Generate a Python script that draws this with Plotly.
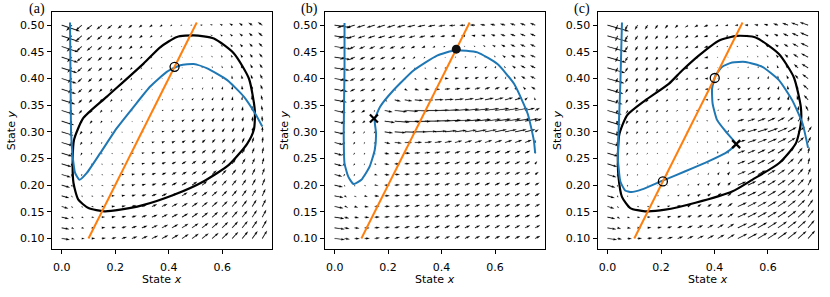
import numpy as np
import plotly.graph_objects as go

# ---------------- data ----------------
panel_labels = ["(a)", "(b)", "(c)"]
x_tick_vals = [0.0, 0.2, 0.4, 0.6]
x_tick_text = ["0.0", "0.2", "0.4", "0.6"]
y_tick_vals = [0.10, 0.15, 0.20, 0.25, 0.30, 0.35, 0.40, 0.45, 0.50]
y_tick_text = ["0.10", "0.15", "0.20", "0.25", "0.30", "0.35", "0.40", "0.45", "0.50"]

grid_x = np.linspace(0.0, 0.75, 21)
grid_y = np.linspace(0.10, 0.50, 21)

orange_x = [0.10, 0.505]
orange_y = [0.10, 0.505]

blue_a_x = [0.031, 0.033, 0.035, 0.041, 0.050, 0.066, 0.094, 0.144, 0.206, 0.269, 0.331, 0.394,
            0.444, 0.494, 0.544, 0.619, 0.681, 0.725, 0.750]
blue_a_y = [0.505, 0.400, 0.298, 0.254, 0.223, 0.210, 0.223, 0.260, 0.307, 0.347, 0.385, 0.413,
            0.425, 0.427, 0.419, 0.397, 0.366, 0.333, 0.310]

black_a_x = [0.494, 0.569, 0.644, 0.700, 0.722, 0.719, 0.694, 0.625, 0.530, 0.420, 0.300, 0.219,
             0.160, 0.100, 0.062, 0.044, 0.041, 0.046, 0.081, 0.169, 0.306, 0.369, 0.431, 0.494]
black_a_y = [0.481, 0.475, 0.447, 0.400, 0.341, 0.305, 0.278, 0.238, 0.207, 0.182, 0.162, 0.154,
             0.151, 0.157, 0.173, 0.204, 0.248, 0.285, 0.326, 0.366, 0.428, 0.459, 0.478, 0.481]

blue_b_x = [0.037, 0.037, 0.034, 0.037, 0.051, 0.071, 0.100, 0.131, 0.150, 0.155, 0.150, 0.170,
            0.220, 0.295, 0.383, 0.452, 0.534, 0.609, 0.671, 0.722, 0.745, 0.750]
blue_b_y = [0.504, 0.420, 0.297, 0.241, 0.216, 0.202, 0.210, 0.235, 0.266, 0.297, 0.322, 0.347,
            0.378, 0.415, 0.443, 0.453, 0.449, 0.427, 0.390, 0.334, 0.284, 0.260]

blue_c_x = [0.054, 0.048, 0.041, 0.039, 0.048, 0.066, 0.089, 0.129, 0.204, 0.291, 0.379, 0.441,
            0.472, 0.481, 0.448, 0.410, 0.393, 0.391, 0.404, 0.429, 0.466, 0.516, 0.579, 0.641,
            0.691, 0.729, 0.750]
blue_c_y = [0.505, 0.390, 0.297, 0.248, 0.207, 0.190, 0.187, 0.192, 0.208, 0.226, 0.245, 0.260,
            0.272, 0.277, 0.297, 0.322, 0.353, 0.381, 0.406, 0.422, 0.430, 0.431, 0.422, 0.397,
            0.359, 0.316, 0.270]

black_c_x = [0.485, 0.554, 0.641, 0.697, 0.723, 0.723, 0.704, 0.641, 0.541, 0.466, 0.329, 0.216,
             0.141, 0.085, 0.054, 0.041, 0.039, 0.044, 0.073, 0.141, 0.229, 0.279, 0.341, 0.416, 0.485]
black_c_y = [0.480, 0.477, 0.446, 0.402, 0.346, 0.316, 0.278, 0.241, 0.210, 0.188, 0.167, 0.154,
             0.151, 0.157, 0.178, 0.216, 0.260, 0.295, 0.331, 0.359, 0.390, 0.415, 0.443, 0.471, 0.480]

open_pts_a_x = [0.422]
open_pts_a_y = [0.422]
filled_pts_b_x = [0.455]
filled_pts_b_y = [0.455]
cross_pts_b_x = [0.147]
cross_pts_b_y = [0.325]
open_pts_c_x = [0.401, 0.207]
open_pts_c_y = [0.401, 0.207]
cross_pts_c_x = [0.481]
cross_pts_c_y = [0.277]

# ---------------- layout geometry (pixels) ----------------
W, H = 830, 297
PANEL_LEFT = [51.7, 324.6, 597.5]
PANEL_W = 220.6
TOP, BOTTOM = 11.7, 249.3
XR = [-0.0375, 0.7875]
YR = [0.0797, 0.5253]
KX = PANEL_W / (XR[1] - XR[0])
KY = (BOTTOM - TOP) / (YR[1] - YR[0])

BLUE = "#1f77b4"
ORANGE = "#ff7f0e"


# ---------------- vector field approximating the drawn arrows ----------------
def crossings(cx, cy, x):
    ys = []
    for i in range(len(cx) - 1):
        x1, x2 = cx[i], cx[i + 1]
        lo, hi = min(x1, x2), max(x1, x2)
        if hi > lo and lo <= x < hi:
            t = (x - x1) / (x2 - x1)
            ys.append(cy[i] + t * (cy[i + 1] - cy[i]))
    return ys


def gap(cx, cy, x, y):
    ys = crossings(cx, cy, x)
    if not ys:
        yc = cy[int(np.argmin(cx))] if x < min(cx) else cy[int(np.argmax(cx))]
        return yc - y
    above = sum(1 for yc in ys if yc > y)
    d = min(abs(yc - y) for yc in ys)
    return d if above % 2 == 1 else -d


def sig(z):
    return 1.0 / (1.0 + np.exp(-z))


def field(panel, x, y, hx, hy):
    g = gap(hx, hy, x, y)
    fast = 24.0 * np.clip((y - 0.1) / 0.4, 0.15, 1.0) ** 0.8 * np.exp(-x / 0.01)
    if panel == 0:
        U = 9.0 * np.tanh(g / 0.36)
        V = 12.0 * (x - y)
    elif panel == 1:
        U = 5.0 * np.tanh(g / 0.05)
        U *= 1.0 - 0.85 * np.exp(-((x - 0.1) / 0.06) ** 2 - ((y - 0.27) / 0.07) ** 2)
        U -= 3.0 * np.exp(-((y - 0.5) / 0.03) ** 2) * sig((0.5 - x) / 0.05)
        U += 11.0 * np.exp(-((y - 0.325) / 0.035) ** 2) * sig((x - 0.18) / 0.012)
        V = 2.5 * np.tanh((x - y) / 0.2)
    else:
        U = 10.0 * np.tanh(g / 0.2)
        if g < 0:
            U *= 0.3 + 0.7 * sig((x - 0.42) / 0.04)
        U += 5.0 * np.exp(-((y - 0.3) / 0.03) ** 2) * sig((x - 0.5) / 0.03)
        V = 12.0 * (x - y)
    return U + fast, V


def arrow_polys(panel, hx, hy, w=0.7):
    xs, ys = [], []
    hl, hw, hal, minsh = 5.0, 3.0, 4.5, 5.0
    for yy in grid_y:
        for xx in grid_x:
            U, V = field(panel, xx, yy, hx, hy)
            L = float(np.hypot(U, V))
            Lw = L / w
            if Lw < 1.0:
                th = np.arange(8) * np.pi / 3.0
                px = np.cos(th) * 0.5
                py = np.sin(th) * 0.5
                c, s = 1.0, 0.0
            else:
                if Lw < minsh:
                    sh = Lw / minsh
                    px = sh * np.array([0, minsh - hal, minsh - hl, minsh, minsh - hl, minsh - hal, 0, 0])
                    py = sh * 0.5 * np.array([1, 1, hw, 0, -hw, -1, -1, 1])
                else:
                    px = np.array([0, Lw - hal, Lw - hl, Lw, Lw - hl, Lw - hal, 0, 0])
                    py = 0.5 * np.array([1, 1, hw, 0, -hw, -1, -1, 1])
                c, s = U / L, V / L
            rx = (px * c - py * s) * w
            ry = (px * s + py * c) * w
            xs.extend(list(xx + rx / KX) + [None])
            ys.extend(list(yy + ry / KY) + [None])
    return xs, ys


fig = go.Figure()

panels = [
    dict(blue=(blue_a_x, blue_a_y), black=(black_a_x, black_a_y)),
    dict(blue=(blue_b_x, blue_b_y), black=None),
    dict(blue=(blue_c_x, blue_c_y), black=(black_c_x, black_c_y)),
]

for i, p in enumerate(panels):
    xa = "x" if i == 0 else f"x{i + 1}"
    ya = "y" if i == 0 else f"y{i + 1}"
    bx, by = p["blue"]
    k = int(np.argmin(by))
    hx, hy = bx[k:], by[k:]
    qx, qy = arrow_polys(i, hx, hy)
    fig.add_trace(go.Scatter(x=qx, y=qy, mode="lines", fill="toself", fillcolor="black",
                             line=dict(color="black", width=0.15), xaxis=xa, yaxis=ya,
                             hoverinfo="skip", showlegend=False))
    if p["black"] is not None:
        kx_, ky_ = p["black"]
        fig.add_trace(go.Scatter(x=kx_, y=ky_, mode="lines",
                                 line=dict(color="black", width=2.2, shape="spline", smoothing=0.6),
                                 xaxis=xa, yaxis=ya, showlegend=False))
    fig.add_trace(go.Scatter(x=bx, y=by, mode="lines",
                             line=dict(color=BLUE, width=2, shape="spline", smoothing=0.5),
                             xaxis=xa, yaxis=ya, showlegend=False))
    fig.add_trace(go.Scatter(x=orange_x, y=orange_y, mode="lines", line=dict(color=ORANGE, width=2),
                             xaxis=xa, yaxis=ya, showlegend=False))

fig.add_trace(go.Scatter(x=open_pts_a_x, y=open_pts_a_y, mode="markers",
                         marker=dict(symbol="circle-open", size=9, color="black", line=dict(width=1.3)),
                         xaxis="x", yaxis="y", showlegend=False))
fig.add_trace(go.Scatter(x=filled_pts_b_x, y=filled_pts_b_y, mode="markers",
                         marker=dict(symbol="circle", size=9, color="#111111"),
                         xaxis="x2", yaxis="y2", showlegend=False))
fig.add_trace(go.Scatter(x=cross_pts_b_x, y=cross_pts_b_y, mode="markers",
                         marker=dict(symbol="x-thin", size=8, color="black", line=dict(width=2.2, color="black")),
                         xaxis="x2", yaxis="y2", showlegend=False))
fig.add_trace(go.Scatter(x=open_pts_c_x, y=open_pts_c_y, mode="markers",
                         marker=dict(symbol="circle-open", size=9, color="black", line=dict(width=1.3)),
                         xaxis="x3", yaxis="y3", showlegend=False))
fig.add_trace(go.Scatter(x=cross_pts_c_x, y=cross_pts_c_y, mode="markers",
                         marker=dict(symbol="x-thin", size=8, color="black", line=dict(width=2.2, color="black")),
                         xaxis="x3", yaxis="y3", showlegend=False))

tickfont = dict(family="DejaVu Sans", size=11, color="black")
ydom = [1 - BOTTOM / H, 1 - TOP / H]
annotations = []
for i in range(3):
    sx = "" if i == 0 else str(i + 1)
    left = PANEL_LEFT[i]
    dom = [left / W, (left + PANEL_W) / W]
    fig.layout[f"xaxis{sx}"] = dict(domain=dom, range=XR, anchor=f"y{sx}", showgrid=False, zeroline=False,
                                    showline=True, mirror=True, linecolor="black", linewidth=1,
                                    ticks="outside", ticklen=4, tickwidth=1, tickcolor="black",
                                    tickvals=x_tick_vals, ticktext=x_tick_text, tickfont=tickfont,
                                    ticklabelstandoff=3, automargin=False)
    fig.layout[f"yaxis{sx}"] = dict(domain=ydom, range=YR, anchor=f"x{sx}", showgrid=False, zeroline=False,
                                    showline=True, mirror=True, linecolor="black", linewidth=1,
                                    ticks="outside", ticklen=4, tickwidth=1, tickcolor="black",
                                    tickvals=y_tick_vals, ticktext=y_tick_text, tickfont=tickfont,
                                    automargin=False)
    cx = (left + PANEL_W / 2) / W
    annotations.append(dict(text="State <i>x</i>", x=cx, y=1 - 279 / H, xref="paper", yref="paper",
                            showarrow=False, xanchor="center", yanchor="middle",
                            font=dict(family="DejaVu Sans", size=11, color="black")))
    annotations.append(dict(text="State <i>y</i>", x=(left - 40) / W, y=1 - (TOP + BOTTOM) / 2 / H,
                            xref="paper", yref="paper", showarrow=False, textangle=-90,
                            xanchor="center", yanchor="middle",
                            font=dict(family="DejaVu Sans", size=11, color="black")))
    annotations.append(dict(text=panel_labels[i], x=(left - 15.2) / W, y=1 - 8.5 / H,
                            xref="paper", yref="paper", showarrow=False,
                            xanchor="center", yanchor="middle",
                            font=dict(family="Liberation Serif", size=14, color="black")))

fig.update_layout(width=W, height=H, margin=dict(l=0, r=0, t=0, b=0),
                  plot_bgcolor="white", paper_bgcolor="white", annotations=annotations)

fig.write_html("out.html", config={"displayModeBar": False},
               post_script="document.body.style.margin='0';")
